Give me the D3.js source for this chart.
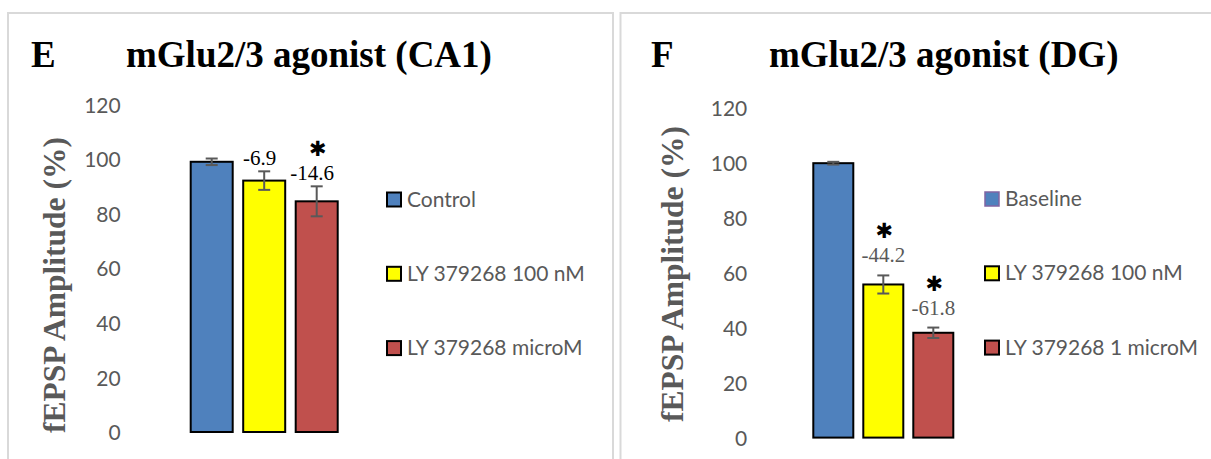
<!DOCTYPE html>
<html>
<head>
<meta charset="utf-8">
<script src="https://cdn.jsdelivr.net/npm/d3@7"></script>
<style>
  body { margin: 0; background: #fff; }
  svg { display: block; }
  .tick text { font-family: Lato, "Open Sans", sans-serif; font-size: 21px; fill: #595959; }
</style>
</head>
<body>
<div id="chart"></div>
<script>
// data
const yTicks = [0, 20, 40, 60, 80, 100, 120];

const seriesCA1 = ['Control', 'LY 379268 100 nM', 'LY 379268 microM'];
const valuesCA1 = [99.1, 92.2, 84.6];
const errorsCA1 = [1.2, 3.4, 5.5];
const changeCA1 = ['', '-6.9', '-14.6'];
const signifCA1 = [false, false, true];

const seriesDG = ['Baseline', 'LY 379268 100 nM', 'LY 379268 1 microM'];
const valuesDG = [100, 55.8, 38.2];
const errorsDG = [0.5, 3.3, 1.9];
const changeDG = ['', '-44.2', '-61.8'];
const signifDG = [false, true, true];

const colors = ['#4F81BD', '#FFFF00', '#C0504D'];

let width = 1211;
let height = 459;

let svg = d3.select('#chart').append('svg')
  .attr('width', width)
  .attr('height', height);

function panel(cfg) {
  let g = svg.append('g');

  // frame
  g.append('rect')
    .attr('x', cfg.frame[0]).attr('y', cfg.frame[1])
    .attr('width', cfg.frame[2]).attr('height', cfg.frame[3])
    .attr('fill', 'none')
    .attr('stroke', '#d9d9d9')
    .attr('stroke-width', 2);

  // panel letter and title
  g.append('text')
    .attr('x', cfg.letterX).attr('y', cfg.titleY)
    .style('font-family', '"Liberation Serif", "Times New Roman", serif')
    .style('font-weight', 'bold')
    .style('font-size', '37px')
    .text(cfg.letter);

  g.append('text')
    .attr('x', cfg.titleX).attr('y', cfg.titleY)
    .style('font-family', '"Liberation Serif", "Times New Roman", serif')
    .style('font-weight', 'bold')
    .style('font-size', '37px')
    .text(cfg.title);

  let x = d3.scaleBand()
    .domain(cfg.series)
    .range(cfg.xRange)
    .paddingInner(0.2)
    .paddingOuter(0.1);

  let y = d3.scaleLinear()
    .domain([0, 120])
    .range(cfg.yRange);

  // y axis: labels only
  let axis = g.append('g')
    .attr('transform', `translate(${cfg.axisX},0)`)
    .call(d3.axisLeft(y).tickValues(yTicks).tickSize(0).tickPadding(0));
  axis.select('.domain').remove();
  axis.selectAll('.tick text').attr('dy', '0.36em');

  // y axis title
  g.append('text')
    .attr('transform', `translate(${cfg.yTitle[0]},${cfg.yTitle[1]}) rotate(-90)`)
    .attr('text-anchor', 'middle')
    .style('font-family', '"Liberation Serif", "Times New Roman", serif')
    .style('font-weight', 'bold')
    .style('font-size', '31.5px')
    .style('fill', '#595959')
    .text('fEPSP Amplitude (%)');

  let rows = cfg.series.map((s, i) => ({
    name: s, value: cfg.values[i], err: cfg.errors[i],
    change: cfg.change[i], star: cfg.signif[i], color: colors[i]
  }));

  // bars
  g.selectAll('rect.bar')
    .data(rows)
    .enter().append('rect')
    .classed('bar', true)
    .attr('x', d => x(d.name))
    .attr('y', d => y(d.value))
    .attr('width', x.bandwidth())
    .attr('height', d => y(0) - y(d.value))
    .attr('fill', d => d.color)
    .attr('stroke', '#000')
    .attr('stroke-width', 2);

  // error bars
  let eb = g.selectAll('g.err')
    .data(rows)
    .enter().append('g')
    .classed('err', true)
    .attr('stroke', '#595959')
    .attr('stroke-width', 2);
  let cx = d => x(d.name) + x.bandwidth() / 2;
  eb.append('line')
    .attr('x1', cx).attr('x2', cx)
    .attr('y1', d => y(d.value + d.err))
    .attr('y2', d => y(d.value - d.err));
  [1, -1].forEach(sign => {
    eb.append('line')
      .attr('x1', d => cx(d) - 6).attr('x2', d => cx(d) + 6)
      .attr('y1', d => y(d.value + sign * d.err))
      .attr('y2', d => y(d.value + sign * d.err));
  });

  // change labels and significance stars
  let labelled = rows.filter(d => d.change);
  g.selectAll('text.change')
    .data(labelled)
    .enter().append('text')
    .classed('change', true)
    .attr('x', d => cx(d) + cfg.labelDx)
    .attr('y', d => y(d.value + d.err) - cfg.labelGap)
    .attr('text-anchor', 'middle')
    .style('font-family', '"Liberation Serif", "Times New Roman", serif')
    .style('font-size', '21px')
    .style('fill', cfg.labelColor)
    .text(d => d.change);

  // heavy asterisk glyph keeps the star compact above the label
  g.selectAll('text.star')
    .data(rows.filter(d => d.star))
    .enter().append('text')
    .classed('star', true)
    .attr('x', d => cx(d) + 1)
    .attr('y', d => y(d.value + d.err) - cfg.labelGap - 24)
    .attr('text-anchor', 'middle')
    .style('font-family', '"DejaVu Sans", sans-serif')
    .style('font-size', '21px')
    .text('\u2731');

  // legend
  let leg = g.selectAll('g.legend')
    .data(rows)
    .enter().append('g')
    .classed('legend', true)
    .attr('transform', (d, i) => `translate(${cfg.legendX},${cfg.legendY + i * 74.3})`);
  leg.append('rect')
    .attr('x', 0).attr('y', -14)
    .attr('width', 14).attr('height', 14)
    .attr('fill', d => d.color)
    .attr('stroke', (d, i) => (i === 0 && cfg.firstSwatchStroke) ? cfg.firstSwatchStroke : '#000')
    .attr('stroke-width', (d, i) => (i === 0 && cfg.firstSwatchStroke) ? 1.5 : 2);
  leg.append('text')
    .attr('x', 20).attr('y', 0)
    .style('font-family', 'Lato, "Open Sans", sans-serif')
    .style('font-size', '21px')
    .style('fill', '#595959')
    .text(d => d.name);
}

panel({
  frame: [8, 13, 605, 470],
  letter: 'E', letterX: 31, titleX: 126, titleY: 67,
  title: 'mGlu2/3 agonist (CA1)',
  series: seriesCA1, values: valuesCA1, errors: errorsCA1,
  change: changeCA1, signif: signifCA1,
  xRange: [185.45, 342.95], yRange: [432, 104.8],
  axisX: 120.7, yTitle: [65, 285],
  labelDx: -4.5, labelGap: 6, labelColor: '#000',
  legendX: 387, legendY: 206.5
});

panel({
  frame: [620.5, 13, 620, 470],
  letter: 'F', letterX: 651, titleX: 769, titleY: 67,
  title: 'mGlu2/3 agonist (DG)',
  series: seriesDG, values: valuesDG, errors: errorsDG,
  change: changeDG, signif: signifDG,
  xRange: [808.3, 958.3], yRange: [437.6, 108.3],
  axisX: 747.3, yTitle: [683, 274],
  labelDx: 0, labelGap: 13, labelColor: '#595959',
  legendX: 985, legendY: 206,
  firstSwatchStroke: '#8064A2'
});
</script>
</body>
</html>
